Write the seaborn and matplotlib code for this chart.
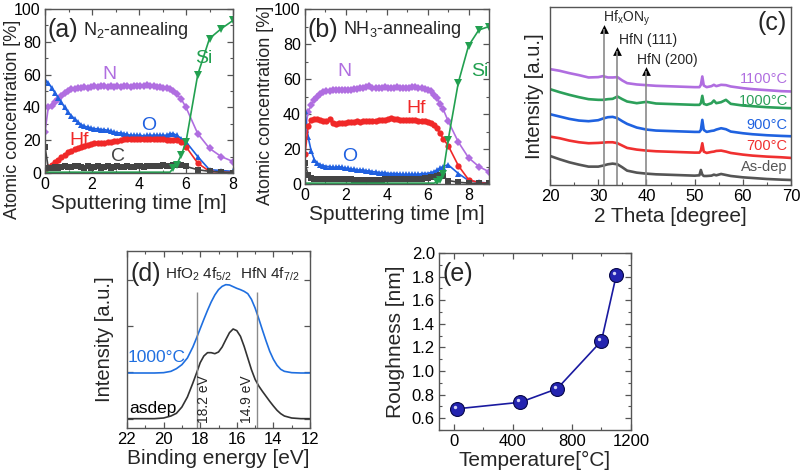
import numpy as np
import pandas as pd
import matplotlib
matplotlib.use("Agg")
import matplotlib.pyplot as plt
import seaborn as sns
from matplotlib.ticker import MultipleLocator, NullFormatter, FixedLocator, FormatStrFormatter
from matplotlib.transforms import offset_copy

sns.set_style("ticks")
plt.rcParams['font.family'] = ['Liberation Sans', 'DejaVu Sans']
plt.rcParams['mathtext.fontset'] = 'custom'
plt.rcParams['mathtext.rm'] = 'Liberation Sans'
plt.rcParams['mathtext.it'] = 'Liberation Sans:italic'
plt.rcParams['mathtext.bf'] = 'Liberation Sans:bold'

# ---------------- (a) N2-annealing depth profile ----------------
t_a = [0.00, 0.14, 0.28, 0.42, 0.56, 0.70, 0.84, 0.98, 1.12, 1.26, 1.40, 1.54, 1.68, 1.82,
       1.96, 2.10, 2.24, 2.38, 2.52, 2.66, 2.80, 2.94, 3.08, 3.22, 3.36, 3.50, 3.64, 3.78,
       3.92, 4.06, 4.20, 4.34, 4.48, 4.62, 4.76, 4.90, 5.04, 5.18, 5.32, 5.46, 5.60, 5.80,
       6.00, 6.50, 7.00, 7.50, 8.00]
N_a = [25, 40, 41, 43, 45, 47, 49, 50, 51, 51.5, 52, 52, 52.5, 52, 52.5, 53, 52.5, 53, 53,
       52.5, 53, 52.5, 53, 52.5, 53, 53, 52.5, 53, 53, 53, 53, 53.5, 53, 53, 52.5, 52.5, 52,
       52, 51, 50, 48, 45, 40, 24, 15, 10, 7]
O_a = [57, 55, 52, 49, 46, 43, 40, 37, 35, 33, 31, 29.5, 28.5, 28, 27.5, 27, 27, 26.5, 26.5,
       26, 25.5, 25, 24.5, 24.5, 24, 23.5, 23, 23, 23, 23, 22.5, 23, 23, 23, 23, 23, 23, 23,
       24, 24, 23, 21, 19, 10, 2, 1.5, 1]
Hf_a = [2, 3.5, 5, 6.5, 8, 9.5, 11, 12.5, 13.5, 14.5, 15.5, 16, 16.5, 17, 17.5, 18, 18,
        18.5, 18.5, 19, 19, 19.5, 19.5, 20, 20.5, 20.5, 20.5, 21, 21, 21, 21, 21, 21, 20.5,
        20.5, 20.5, 20.5, 20, 20, 20, 20, 19, 16, 6, 1, 0.5, 0.3]
C_a = [16, 3, 3, 3.5, 3, 3.5, 4, 3.5, 3.5, 4, 4.5, 3.5, 3, 4, 3, 3.5, 4, 3, 3.5, 4, 3, 3.5,
       4, 3.5, 3.5, 4.5, 3.5, 3.5, 4, 4, 3.5, 4, 4, 4.5, 4, 4.5, 5, 4.5, 4.5, 5, 5, 5, 4, 2,
       1, 0.5, 0.3]
Si_a = [0.5, 0.5, 0.5, 0.5, 0.5, 0.5, 0.5, 0.5, 0.5, 0.5, 0.5, 0.5, 0.5, 0.5, 0.5, 0.5, 0.5,
        0.5, 0.5, 0.5, 0.5, 0.5, 0.5, 0.5, 0.5, 0.5, 0.5, 0.5, 0.5, 0.5, 0.5, 0.5, 0.5, 0.5,
        0.5, 0.5, 0.5, 0.5, 0.5, 3, 5, 11, 19, 60, 82, 88, 93]

# ---------------- (b) NH3-annealing depth profile ----------------
t_b = [0.00, 0.15, 0.30, 0.45, 0.60, 0.75, 0.90, 1.05, 1.20, 1.35, 1.50, 1.65, 1.80, 1.95,
       2.10, 2.25, 2.40, 2.55, 2.70, 2.85, 3.00, 3.15, 3.30, 3.45, 3.60, 3.75, 3.90, 4.05,
       4.20, 4.35, 4.50, 4.65, 4.80, 4.95, 5.10, 5.25, 5.40, 5.55, 5.70, 5.85, 6.00, 6.15,
       6.30, 6.45, 6.60, 6.75, 7.00, 7.50, 8.00, 8.50, 9.00]
N_b = [30, 41, 45, 48, 50, 51.5, 52.5, 53, 53, 53.5, 53.5, 54, 53.5, 54, 54, 54, 54.5, 54.5,
       55, 55, 55.5, 56, 55, 55, 55, 55, 55.5, 55, 55, 55, 55.5, 55, 55, 55, 55, 55.5, 55.5,
       55, 55, 54.5, 54, 53, 51, 49, 46, 43, 36, 24, 15, 10, 7]
Hf_b = [17, 33, 36.5, 37, 37, 36.5, 36, 36, 37, 35, 34.5, 35, 35, 35, 35.5, 35.5, 35.5, 36,
        35.5, 36, 36, 36, 36, 36, 36.5, 36.5, 36.5, 37, 37.5, 37, 37, 36.5, 36.5, 36.5, 36.5,
        36.5, 36.5, 36, 36, 36, 35.5, 35, 34, 32, 29, 26, 22, 10.5, 2.5, 0.8, 0.3]
O_b = [42, 27, 19, 14, 12, 11, 10.5, 10, 10, 9.5, 9.5, 10, 9.5, 9, 9, 8.5, 8.5, 8, 8, 8, 7.5,
       7.5, 7, 7, 6.5, 6.5, 6.5, 6, 6, 6, 6, 5.5, 5.5, 5.5, 5.5, 5.5, 5.5, 5.5, 6, 6, 6, 6.5,
       7, 8, 9, 10, 11, 6, 2, 1, 0.5]
C_b = [12, 5, 3.5, 3, 3, 3, 3, 3, 3, 3, 3, 3, 3, 3, 3, 3, 2.5, 2.5, 2.5, 2.5, 2.5, 2.5, 2.5,
       2.5, 2.5, 2.5, 3, 3, 3, 3, 3, 3, 3, 3, 3, 3, 3, 3, 3, 3.5, 3.5, 4, 4, 4.5, 5, 4.5, 2, 1,
       0.5, 0.3, 0.3]
Si_b = [0.5, 0.5, 0.5, 0.5, 0.5, 0.5, 0.5, 0.5, 0.5, 0.5, 0.5, 0.5, 0.5, 0.5, 0.5, 0.5, 0.5,
        0.5, 0.5, 0.5, 0.5, 0.5, 0.5, 0.5, 0.5, 0.5, 0.5, 0.5, 0.5, 0.5, 0.5, 0.5, 0.5, 0.5,
        0.5, 0.5, 0.5, 0.5, 0.5, 0.5, 0.5, 0.5, 0.5, 1, 2.5, 6, 25, 58, 79, 88, 90]

# ---------------- (c) XRD ----------------
tt = [20, 22, 24, 26, 28, 30, 31, 32, 33, 34, 35, 36, 38, 40, 42, 44, 46, 48, 50, 51, 51.3,
      51.6, 51.9, 52.5, 53.5, 54, 54.5, 55.5, 56.5, 57.5, 60, 62, 65, 68, 70]
xrd_asdep = [8.7, 7.7, 6.8, 6.1, 5.5, 5.5, 5.8, 6.2, 6.4, 6.2, 5.3, 4.3, 3.7, 3.4, 3.2, 3.1,
             3.0, 2.9, 2.8, 2.9, 4.5, 3.1, 2.7, 2.7, 2.8, 3.1, 2.9, 3.3, 3.0, 2.7, 2.3, 2.1,
             1.8, 1.6, 1.5]
xrd_700 = [14.5, 14.0, 13.3, 12.8, 12.5, 12.6, 12.7, 12.8, 12.8, 12.5, 11.8, 11.1, 10.6, 10.3,
           10.1, 10.0, 9.9, 9.8, 9.7, 9.7, 10.3, 12.5, 10.0, 9.6, 9.9, 10.0, 10.2, 10.3, 10.0,
           9.6, 9.1, 8.8, 8.5, 8.3, 8.1]
xrd_900 = [21.2, 20.5, 19.8, 19.3, 19.1, 19.4, 19.9, 20.3, 20.4, 20.0, 19.1, 18.3, 17.2, 16.6,
           16.3, 16.2, 16.1, 16.0, 15.9, 15.9, 16.5, 19.5, 16.5, 15.9, 16.2, 16.3, 16.6, 17.0,
           16.7, 16.0, 15.5, 15.2, 14.9, 14.7, 14.6]
xrd_1000 = [28.7, 27.8, 27.0, 26.3, 25.7, 25.5, 25.5, 25.7, 25.8, 26.5, 25.7, 25.0, 24.5,
            24.9, 24.4, 24.3, 24.2, 24.1, 24.0, 24.0, 24.5, 26.7, 24.3, 24.0, 24.5, 25.3, 24.5,
            24.8, 25.5, 24.3, 23.8, 23.6, 23.3, 23.1, 23.0]
xrd_1100 = [34.7, 34.2, 33.5, 32.9, 32.2, 32.3, 32.6, 32.2, 32.2, 32.3, 31.3, 30.5, 30.1, 29.9,
            29.7, 29.6, 29.5, 29.4, 29.3, 29.3, 30.0, 32.5, 29.8, 29.3, 29.6, 30.0, 29.6, 30.0,
            29.9, 29.5, 29.0, 28.7, 28.4, 28.1, 28.0]
xrd_labels = ['As-dep', '700°C', '900°C', '1000°C', '1100°C']
xrd_label_y = [5.5, 11.8, 18.0, 25.3, 31.8]
peak_pos = [31.2, 33.9, 40.0]
peak_tip = [46.7, 40.0, 34.0]
peak_names = ['Hf$_\\mathrm{x}$ON$_\\mathrm{y}$', 'HfN (111)', 'HfN (200)']
peak_text_x = [31.0, 34.4, 38.0]
peak_text_y = [49.8, 43.3, 37.3]

# ---------------- (d) XPS ----------------
E_d = [22.0, 21.0, 20.5, 20.0, 19.6, 19.3, 19.0, 18.7, 18.4, 18.2, 18.0, 17.8, 17.6, 17.4,
       17.2, 17.0, 16.8, 16.6, 16.4, 16.2, 16.0, 15.8, 15.6, 15.4, 15.2, 15.0, 14.8, 14.6,
       14.4, 14.2, 14.0, 13.8, 13.6, 13.4, 13.0, 12.5, 12.0]
xps_asdep = [2.8, 2.8, 2.8, 3.0, 3.6, 4.4, 6.3, 9.3, 13.5, 16.5, 19.6, 21.6, 22.6, 22.6, 22.3,
             22.8, 24.3, 26.5, 28.6, 29.7, 29.2, 27.5, 24.5, 21.0, 17.5, 14.6, 12.6, 11.0, 9.5,
             8.0, 6.6, 5.3, 4.3, 3.6, 3.0, 2.8, 2.8]
xps_1000 = [16.5, 16.5, 16.5, 16.6, 17.0, 17.8, 19.0, 21.0, 24.3, 27.0, 29.8, 32.6, 35.3, 37.8,
            39.9, 41.5, 42.5, 43.0, 42.9, 42.4, 41.9, 41.5, 41.0, 40.3, 38.6, 36.0, 32.8, 29.4,
            26.1, 23.0, 20.6, 18.8, 17.6, 17.0, 16.6, 16.5, 16.5]
ref_E = [18.2, 14.9]
ref_top = 40.7

# ---------------- (e) Roughness ----------------
temp = [25, 450, 700, 1000, 1100]
rough = [0.68, 0.735, 0.85, 1.255, 1.81]

# ---------------- figure ----------------
W, H = 800, 471
fig = plt.figure(figsize=(W / 100, H / 100), dpi=100)


def add_ax(l, r, t, b):
    return fig.add_axes([l / W, 1 - b / H, (r - l) / W, (b - t) / H])


def style(ax, top=True, right=True, lsize=12):
    for s in ax.spines.values():
        s.set_color('#555555')
        s.set_linewidth(1.0)
    ax.tick_params(which='both', direction='in', top=top, right=right,
                   colors='#555555', labelcolor='black', labelsize=lsize, pad=3)
    ax.tick_params(which='major', length=4, width=0.9)
    ax.tick_params(which='minor', length=2, width=0.8)


C_N, C_O, C_Hf, C_C, C_Si = '#b06ee0', '#1f60e0', '#f02828', '#444444', '#22a050'


def profile(ax, t, N, O, Hf, C, Si):
    for y, c, m in [(N, C_N, 'D'), (O, C_O, '^'), (Hf, C_Hf, 'o'), (C, C_C, 's')]:
        sns.lineplot(x=t, y=y, ax=ax, color=c, marker=m, markersize=4.5, mew=0,
                     linewidth=1.2, sort=False)
    idx = [i for i, v in enumerate(Si) if v > 0.8]
    sns.lineplot(x=t, y=Si, ax=ax, color=C_Si, marker='v', markersize=5.5, mew=0,
                 linewidth=1.2, markevery=idx, sort=False)


LBL = 15

# (a)
axa = add_ax(45, 233, 9, 173)
profile(axa, t_a, N_a, O_a, Hf_a, C_a, Si_a)
axa.set_xlim(0, 8)
axa.set_ylim(0, 100)
axa.xaxis.set_major_locator(MultipleLocator(2))
axa.xaxis.set_minor_locator(MultipleLocator(1))
axa.yaxis.set_major_locator(MultipleLocator(20))
axa.yaxis.set_minor_locator(MultipleLocator(10))
style(axa, lsize=11.5)
axa.set_xlabel('Sputtering time [m]', fontsize=LBL, labelpad=1)
axa.set_ylabel('Atomic concentration [%]', fontsize=13)
axa.yaxis.set_label_coords(-0.13, 0.33)
axa.text(0.1, 87, '(a)', fontsize=18, va='center', ha='left')
axa.text(1.62, 87, 'N$_2$-annealing', fontsize=13, va='center', ha='left')
axa.text(2.75, 60, 'N', fontsize=14, color=C_N, ha='center', va='center')
axa.text(4.4, 29, 'O', fontsize=14, color=C_O, ha='center', va='center')
axa.text(1.45, 20, 'Hf', fontsize=14, color=C_Hf, ha='center', va='center')
axa.text(3.1, 10, 'C', fontsize=14, color=C_C, ha='center', va='center')
axa.text(6.75, 70, 'Si', fontsize=14, color=C_Si, ha='center', va='center')

# (b)
axb = add_ax(305, 489, 9, 184)
profile(axb, t_b, N_b, O_b, Hf_b, C_b, Si_b)
axb.set_xlim(0, 9)
axb.set_ylim(0, 100)
axb.xaxis.set_major_locator(MultipleLocator(2))
axb.xaxis.set_minor_locator(MultipleLocator(1))
axb.yaxis.set_major_locator(MultipleLocator(20))
axb.yaxis.set_minor_locator(MultipleLocator(10))
style(axb, lsize=11.5)
axb.set_xlabel('Sputtering time [m]', fontsize=LBL, labelpad=1)
axb.set_ylabel('Atomic concentration [%]', fontsize=13)
axb.yaxis.set_label_coords(-0.168, 0.45)
axb.text(0.12, 88, '(b)', fontsize=18, va='center', ha='left')
axb.text(1.85, 88, 'NH$_3$-annealing', fontsize=13, va='center', ha='left')
axb.text(1.95, 64, 'N', fontsize=14, color=C_N, ha='center', va='center')
axb.text(5.45, 43, 'Hf', fontsize=14, color=C_Hf, ha='center', va='center')
axb.text(2.2, 15.5, 'O', fontsize=14, color=C_O, ha='center', va='center')
axb.text(8.55, 64, 'Si', fontsize=14, color=C_Si, ha='center', va='center')

# (c)
axc = add_ax(550, 791, 7, 185)
xrd_cols = ['#555555', '#f03030', '#1f62e0', '#2ca05a', '#b06ee0']
for ys, c in zip([xrd_asdep, xrd_700, xrd_900, xrd_1000, xrd_1100], xrd_cols):
    sns.lineplot(x=tt, y=ys, ax=axc, color=c, linewidth=1.9, sort=False)
axc.vlines(peak_pos, 0, peak_tip, color='#8a8a8a', linewidth=1.2)
sns.scatterplot(x=peak_pos, y=peak_tip, ax=axc, marker='^', s=40, color='black',
                linewidth=0)
for xs, ys, s in zip(peak_text_x, peak_text_y, peak_names):
    axc.text(xs, ys, s, fontsize=10, ha='left', va='center')
for lab, ly, c in zip(xrd_labels, xrd_label_y, xrd_cols):
    axc.text(69.3, ly, lab, fontsize=10.5, color=c, ha='right', va='center')
axc.text(66.0, 48.5, '(c)', fontsize=18, ha='center', va='center')
axc.set_xlim(20, 70)
axc.set_ylim(0, 53.3)
axc.xaxis.set_major_locator(MultipleLocator(10))
axc.xaxis.set_minor_locator(MultipleLocator(5))
axc.set_yticks([])
style(axc, top=False, right=False)
axc.set_xlabel('2 Theta [degree]', fontsize=LBL, labelpad=2)
axc.set_ylabel('Intensity [a.u.]', fontsize=14.5, labelpad=4)

# (d)
axd = add_ax(127, 310, 251, 428)
sns.lineplot(x=E_d, y=xps_asdep, ax=axd, color='#333333', linewidth=1.2, sort=False)
sns.lineplot(x=E_d, y=xps_1000, ax=axd, color='#1f6fe0', linewidth=1.2, sort=False)
axd.vlines(ref_E, 0, ref_top, color='#8a8a8a', linewidth=1.0)
axd.set_xlim(22, 12)
axd.set_ylim(0, 53.1)
axd.xaxis.set_major_locator(MultipleLocator(2))
axd.xaxis.set_minor_locator(MultipleLocator(1))
axd.yaxis.set_major_locator(FixedLocator([2.8, 16.7, 30.6, 44.5]))
axd.yaxis.set_major_formatter(NullFormatter())
style(axd)
axd.set_xlabel('Binding energy [eV]', fontsize=LBL, labelpad=1)
axd.set_ylabel('Intensity [a.u.]', fontsize=14.5, labelpad=6)
axd.text(21.8, 46.3, '(d)', fontsize=18, ha='left', va='center')
axd.text(19.9, 46.0, 'HfO$_2$ 4f$_{5/2}$', fontsize=11, ha='left', va='center')
axd.text(15.85, 46.0, 'HfN 4f$_{7/2}$', fontsize=11, ha='left', va='center')
axd.text(21.95, 21.2, '1000°C', fontsize=12.5, color='#1f6fe0', ha='left', va='center')
axd.text(21.85, 5.8, 'asdep', fontsize=12.5, color='black', ha='left', va='center')
axd.text(17.8, 8.7, '18.2 eV', fontsize=10, rotation=90, ha='center', va='center')
axd.text(15.45, 8.7, '14.9 eV', fontsize=10, rotation=90, ha='center', va='center')

# (e)
axe = add_ax(439, 631, 253, 430)
sns.lineplot(x=temp, y=rough, ax=axe, color='#1a1aa0', linewidth=1.2, marker='o',
             markersize=10, markerfacecolor='#2424b0', markeredgecolor='#08084a', mew=0.8)
hl = offset_copy(axe.transData, fig=fig, x=-1.5, y=1.5, units='points')
axe.scatter(temp, rough, s=6, color='#e8e8ff', alpha=0.9, transform=hl, zorder=5,
            linewidths=0)
axe.set_xlim(-100, 1200)
axe.set_ylim(0.5, 2.0)
axe.xaxis.set_major_locator(MultipleLocator(400))
axe.xaxis.set_minor_locator(MultipleLocator(200))
axe.yaxis.set_major_locator(MultipleLocator(0.2))
axe.yaxis.set_minor_locator(MultipleLocator(0.1))
axe.yaxis.set_major_formatter(FormatStrFormatter('%.1f'))
style(axe)
axe.set_xlabel('Temperature[°C]', fontsize=LBL, labelpad=1)
axe.set_ylabel('Roughness [nm]', fontsize=LBL, labelpad=5)
axe.text(-78, 1.82, '(e)', fontsize=18, ha='left', va='center')

fig.savefig('out.png', dpi=100)
